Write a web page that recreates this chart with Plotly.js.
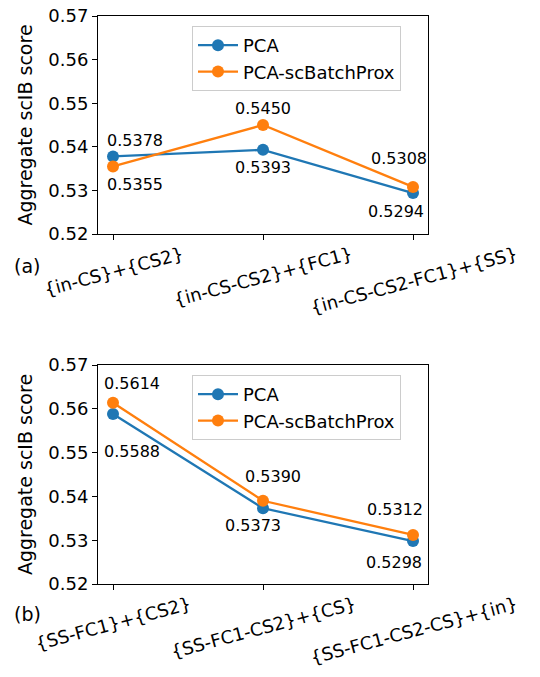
<!DOCTYPE html>
<html><head><meta charset="utf-8">
<script src="https://cdn.plot.ly/plotly-3.0.1.min.js"></script>
<style>body{margin:0;padding:0;background:#fff}#plot{width:540px;height:677px}</style>
</head><body><div id="plot"></div>
<script>
// ---- data ----
const catsA = ["{in-CS}+{CS2}", "{in-CS-CS2}+{FC1}", "{in-CS-CS2-FC1}+{SS}"];
const pcaA = [0.5378, 0.5393, 0.5294];
const proxA = [0.5355, 0.5450, 0.5308];
const catsB = ["{SS-FC1}+{CS2}", "{SS-FC1-CS2}+{CS}", "{SS-FC1-CS2-CS}+{in}"];
const pcaB = [0.5588, 0.5373, 0.5298];
const proxB = [0.5614, 0.5390, 0.5312];
const yTicks = [0.52, 0.53, 0.54, 0.55, 0.56, 0.57];
const seriesNames = ["PCA", "PCA-scBatchProx"];

// ---- label offsets (px) : [xshift, yshift] ----
const offPcaA = [[22, 16], [0, -18], [-17, -18]];
const offProxA = [[22, -18], [0, 16], [-14, 28]];
const offPcaB = [[19, -37], [-10, -17], [-19, -21]];
const offProxB = [[19, 19], [10, 24], [-18, 25]];

const blue = "#1f77b4", orange = "#ff7f0e";
const FONT = "DejaVu Sans";
const idx = [0, 1, 2];

function tr(y, name, color, xa, ya, legend) {
  return {x: idx, y: y, name: name, type: "scatter", mode: "lines+markers",
    line: {color: color, width: 2.3}, marker: {color: color, size: 12},
    xaxis: xa, yaxis: ya, legend: legend, hoverinfo: "skip"};
}
const data = [
  tr(pcaA, seriesNames[0], blue, "x", "y", "legend"),
  tr(proxA, seriesNames[1], orange, "x", "y", "legend"),
  tr(pcaB, seriesNames[0], blue, "x2", "y2", "legend2"),
  tr(proxB, seriesNames[1], orange, "x2", "y2", "legend2")
];

const ann = [];
function vals(arr, offs, xr, yr) {
  arr.forEach((v, i) => ann.push({x: i, y: v, xref: xr, yref: yr, text: v.toFixed(4),
    showarrow: false, xshift: offs[i][0], yshift: offs[i][1],
    font: {family: FONT, size: 16, color: "#000"}}));
}
vals(pcaA, offPcaA, "x", "y");
vals(proxA, offProxA, "x", "y");
vals(pcaB, offPcaB, "x2", "y2");
vals(proxB, offProxB, "x2", "y2");

function cats(arr, xr, ytop) {
  arr.forEach((c, i) => ann.push({x: i, y: ytop, xref: xr, yref: "paper", text: c,
    showarrow: false, textangle: -15, xanchor: "center", yanchor: "top",
    font: {family: FONT, size: 18, color: "#000"}}));
}
cats(catsA, "x", 1 - 240 / 677);
cats(catsB, "x2", 1 - 590 / 677);

ann.push({x: 27 / 540, y: 1 - 266 / 677, xref: "paper", yref: "paper", text: "(a)", showarrow: false,
  xanchor: "center", yanchor: "middle", font: {family: FONT, size: 19, color: "#000"}});
ann.push({x: 27 / 540, y: 1 - 614 / 677, xref: "paper", yref: "paper", text: "(b)", showarrow: false,
  xanchor: "center", yanchor: "middle", font: {family: FONT, size: 19, color: "#000"}});

function xax(anchor) {
  return {domain: [98 / 540, 428 / 540], range: [-0.1, 2.1], anchor: anchor,
    tickvals: idx, ticktext: ["", "", ""], ticks: "outside", ticklen: 5, tickwidth: 1,
    tickcolor: "#000", showline: true, linecolor: "#000", linewidth: 1, mirror: true,
    showgrid: false, zeroline: false, fixedrange: true};
}
function yax(anchor, dom) {
  return {domain: dom, range: [0.52, 0.57], anchor: anchor, tickvals: yTicks,
    ticktext: yTicks.map(v => v.toFixed(2)), ticks: "outside", ticklen: 5, tickwidth: 1,
    tickcolor: "#000", showline: true, linecolor: "#000", linewidth: 1, mirror: true,
    showgrid: false, zeroline: false, tickfont: {family: FONT, size: 18, color: "#000"},
    title: {text: "Aggregate scIB score", font: {family: FONT, size: 19, color: "#000"}, standoff: 10}};
}
function leg(ytop) {
  return {x: 192 / 540, y: ytop, xanchor: "left", yanchor: "top",
    bgcolor: "rgba(255,255,255,0.8)", bordercolor: "#cccccc", borderwidth: 1,
    font: {family: FONT, size: 18, color: "#000"}, itemwidth: 40, tracegroupgap: 0,
    entrywidth: 214, entrywidthmode: "pixels"};
}

const layout = {
  width: 540, height: 677, margin: {l: 0, r: 0, t: 0, b: 0},
  paper_bgcolor: "#fff", plot_bgcolor: "#fff", showlegend: true,
  font: {family: FONT, color: "#000"},
  xaxis: xax("y"), yaxis: yax("x", [1 - 234 / 677, 1 - 16 / 677]),
  xaxis2: xax("y2"), yaxis2: yax("x2", [1 - 584 / 677, 1 - 365 / 677]),
  legend: leg(1 - 26 / 677), legend2: leg(1 - 375 / 677),
  annotations: ann
};
Plotly.newPlot("plot", data, layout, {staticPlot: true, displayModeBar: false});
</script></body></html>
